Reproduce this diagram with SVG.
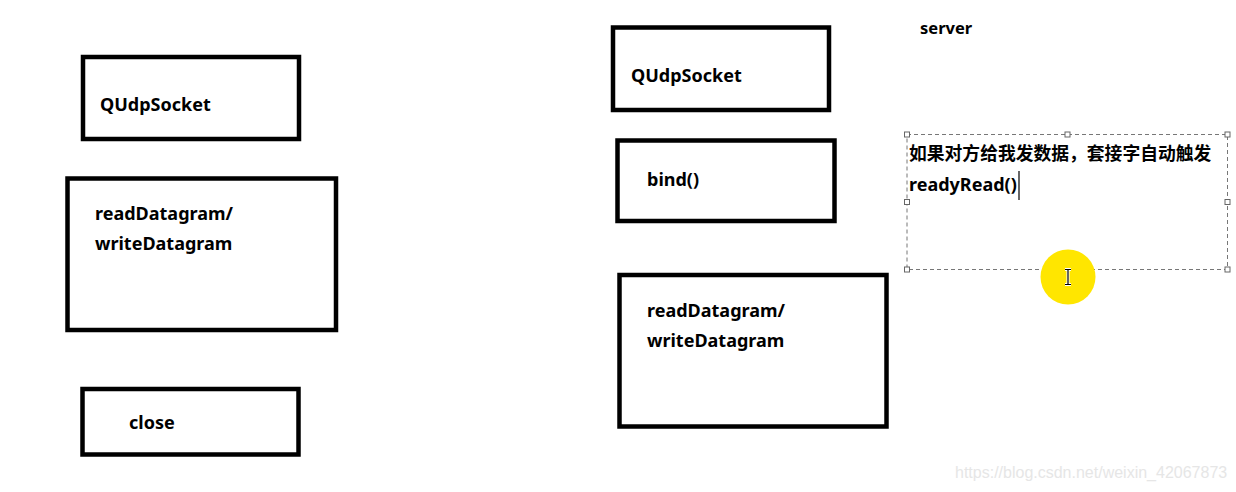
<svg xmlns="http://www.w3.org/2000/svg" width="1236" height="492" viewBox="0 0 1236 492">
<style>
.box{fill:#fff;stroke:#000;stroke-width:4.5}
.t{font-family:"Noto Sans","Noto Sans CJK SC",sans-serif;font-weight:bold;font-size:18px;fill:#000}
.h{fill:#fff;stroke:#666;stroke-width:1}
</style>
<rect width="1236" height="492" fill="#fff"/>
<g id="connectors"></g>
<g id="left-qudpsocket">
<rect class="box" x="83" y="57" width="216" height="82"/>
<text class="t" x="100" y="111">QUdpSocket</text>
</g>
<g id="left-readwrite">
<rect class="box" x="67.5" y="178.5" width="268.5" height="151.5"/>
<text class="t" x="95" y="220">readDatagram/</text>
<text class="t" x="95" y="250">writeDatagram</text>
</g>
<g id="left-close">
<rect class="box" x="82.5" y="389" width="216" height="65.5"/>
<text class="t" x="129" y="429">close</text>
</g>
<g id="right-qudpsocket">
<rect class="box" x="613" y="27.5" width="216" height="82.5"/>
<text class="t" x="631" y="82">QUdpSocket</text>
</g>
<g id="right-bind">
<rect class="box" x="617.5" y="140.5" width="217" height="80.5"/>
<text class="t" x="647" y="186">bind()</text>
</g>
<g id="right-readwrite">
<rect class="box" x="619.5" y="275" width="267" height="151.5"/>
<text class="t" x="647" y="317">readDatagram/</text>
<text class="t" x="647" y="347">writeDatagram</text>
</g>
<g id="server-label">
<text x="920" y="34" style="font-family:'Noto Sans',sans-serif;font-weight:bold;font-size:16.5px;fill:#000">server</text>
</g>
<g id="note">
<rect x="907" y="134.5" width="320.5" height="135" fill="none" stroke="#777" stroke-width="1" stroke-dasharray="4,3"/>
<rect class="h" x="904.5" y="132" width="5" height="5"/>
<rect class="h" x="1065" y="132" width="5" height="5"/>
<rect class="h" x="1225" y="132" width="5" height="5"/>
<rect class="h" x="904.5" y="199.5" width="5" height="5"/>
<rect class="h" x="1225" y="199.5" width="5" height="5"/>
<rect class="h" x="904.5" y="267" width="5" height="5"/>
<rect class="h" x="1225" y="267" width="5" height="5"/>
<text class="t" x="909" y="160" style="font-size:17.8px">如果对方给我发数据，套接字自动触发</text>
<text class="t" x="909" y="191">readyRead()</text>
<line x1="1019" y1="171" x2="1019" y2="200" stroke="#000" stroke-width="1.2"/>
</g>
<g id="cursor">
<circle cx="1068" cy="277" r="27.5" fill="#ffe600"/>
<path d="M1065,269.5h6M1068,269.5v15M1065,284.5h6" fill="none" stroke="#fff" stroke-width="3"/>
<path d="M1065,269.5h6M1068,269.5v15M1065,284.5h6" fill="none" stroke="#000" stroke-width="1.2"/>
</g>
<g id="watermark">
<text x="955" y="478" style="font-family:'Liberation Sans',sans-serif;font-size:16px;fill:#e6e6e6">https://blog.csdn.net/weixin_42067873</text>
</g>
</svg>
